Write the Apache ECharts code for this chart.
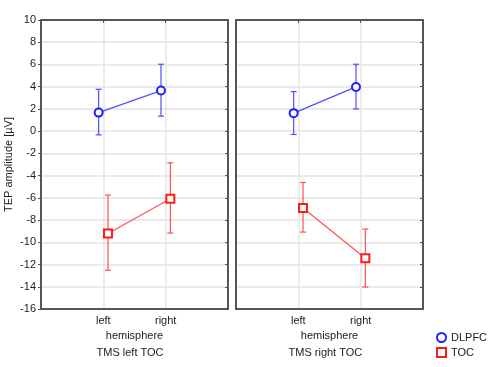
<!DOCTYPE html>
<html><head><meta charset="utf-8">
<script src="https://cdn.jsdelivr.net/npm/echarts@6/dist/echarts.min.js"></script>
<style>html,body{margin:0;padding:0;background:#fff}#c{width:492px;height:367px}</style>
</head><body><div id="c"></div>
<script>
// ---- data ----
const categories = ['left', 'right'];
const panelTitles = ['TMS left TOC', 'TMS right TOC'];
const seriesNames = ['DLPFC', 'TOC'];
// panel 1 (TMS left TOC)
const p1_DLPFC = [1.67, 3.65];
const p1_DLPFC_lo = [-0.33, 1.35];
const p1_DLPFC_hi = [3.77, 6.02];
const p1_TOC = [-9.2, -6.08];
const p1_TOC_lo = [-12.52, -9.17];
const p1_TOC_hi = [-5.75, -2.85];
// panel 2 (TMS right TOC)
const p2_DLPFC = [1.62, 3.98];
const p2_DLPFC_lo = [-0.3, 2.0];
const p2_DLPFC_hi = [3.56, 6.02];
const p2_TOC = [-6.92, -11.44];
const p2_TOC_lo = [-9.08, -14.02];
const p2_TOC_hi = [-4.62, -8.81];
const yTicks = [10, 8, 6, 4, 2, 0, -2, -4, -6, -8, -10, -12, -14, -16];

// ---- styling ----
const FONT = 'Liberation Sans, Arial, sans-serif';
const BLUE = '#5050ff', BLUE_M = '#1e1eff';
const RED = '#ff5050', RED_M = '#ff1a1a';
const DODGE = 0.075;
const panels = [
  {left: 41, vals: [p1_DLPFC, p1_TOC], lo: [p1_DLPFC_lo, p1_TOC_lo], hi: [p1_DLPFC_hi, p1_TOC_hi]},
  {left: 236, vals: [p2_DLPFC, p2_TOC], lo: [p2_DLPFC_lo, p2_TOC_lo], hi: [p2_DLPFC_hi, p2_TOC_hi]}
];
const W = 187, TOP = 20, H = 289;

const grid = [], xAxis = [], yAxis = [], lineSeries = [], errSeries = [], graphic = [];
panels.forEach((p, pi) => {
  grid.push({left: p.left, top: TOP, width: W, height: H, show: false});
  xAxis.push({
    type: 'value', gridIndex: pi, min: 0, max: 3, interval: 1,
    axisLine: {show: true, onZero: false, lineStyle: {color: '#555', width: 2}},
    axisTick: {show: false},
    axisLabel: {color: '#222', fontFamily: FONT, fontSize: 11, margin: 6,
      formatter: v => (v >= 1 && v <= categories.length) ? categories[v - 1] : ''},
    splitLine: {show: true, lineStyle: {color: '#e6e6e6', width: 1.5}},
    name: 'hemisphere', nameLocation: 'middle', nameGap: 17,
    nameTextStyle: {color: '#222', fontFamily: FONT, fontSize: 11}
  });
  xAxis.push({
    type: 'value', gridIndex: pi, min: 0, max: 3, interval: 1, position: 'top',
    axisLine: {show: true, onZero: false, lineStyle: {color: '#555', width: 2}},
    axisTick: {show: true, inside: true, length: 3, lineStyle: {color: '#555'}},
    axisLabel: {show: false}, splitLine: {show: false}
  });
  yAxis.push({
    type: 'value', gridIndex: pi, min: -16, max: 10, interval: 2,
    axisLine: {show: true, onZero: false, lineStyle: {color: '#555', width: 2}},
    axisTick: {show: pi === 0, length: 3, lineStyle: {color: '#555'}},
    axisLabel: {show: pi === 0, color: '#222', fontFamily: FONT, fontSize: 11, margin: 5},
    splitLine: {show: true, lineStyle: {color: '#e3e3e3', width: 1.5}},
    name: pi === 0 ? 'TEP amplitude [µV]' : '', nameLocation: 'middle', nameGap: 27,
    nameTextStyle: {color: '#222', fontFamily: FONT, fontSize: 11}
  });
  yAxis.push({
    type: 'value', gridIndex: pi, min: -16, max: 10, interval: 2, position: 'right',
    axisLine: {show: true, onZero: false, lineStyle: {color: '#555', width: 2}},
    axisTick: {show: true, inside: true, length: 3, lineStyle: {color: '#555'}},
    axisLabel: {show: false}, splitLine: {show: false}
  });
  const xi = pi * 2, yi = pi * 2;
  seriesNames.forEach((name, si) => {
    const off = si === 0 ? -DODGE : DODGE;
    const lc = si === 0 ? BLUE : RED, mc = si === 0 ? BLUE_M : RED_M;
    const vals = p.vals[si], lo = p.lo[si], hi = p.hi[si];
    lineSeries.push({
      type: 'line', name: name, xAxisIndex: xi, yAxisIndex: yi, z: 4,
      data: vals.map((v, i) => [i + 1 + off, v]),
      symbol: si === 0 ? 'circle' : 'rect', symbolSize: 8,
      showAllSymbol: true,
      lineStyle: {color: lc, width: 1.2},
      itemStyle: {color: '#fff', borderColor: mc, borderWidth: 2},
      color: mc
    });
    errSeries.push({
      type: 'custom', name: name, xAxisIndex: xi, yAxisIndex: yi, z: 3,
      color: mc,
      data: vals.map((v, i) => [i + 1 + off, lo[i], hi[i]]),
      renderItem: (params, api) => {
        const a = api.coord([api.value(0), api.value(1)]);
        const b = api.coord([api.value(0), api.value(2)]);
        const cw = 3;
        const st = {stroke: lc, lineWidth: 1.2};
        return {type: 'group', children: [
          {type: 'line', shape: {x1: a[0], y1: a[1], x2: b[0], y2: b[1]}, style: st},
          {type: 'line', shape: {x1: a[0] - cw, y1: a[1], x2: a[0] + cw, y2: a[1]}, style: st},
          {type: 'line', shape: {x1: b[0] - cw, y1: b[1], x2: b[0] + cw, y2: b[1]}, style: st}
        ]};
      },
      silent: true
    });
  });
  graphic.push({
    type: 'text', left: p.left + W / 2 - 38 + (pi === 1 ? -3 : 0), top: 347,
    style: {text: panelTitles[pi], fill: '#222', font: '11px ' + FONT}
  });
});

const chart = echarts.init(document.getElementById('c'), null, {renderer: 'canvas'});
chart.setOption({
  animation: false,
  grid, xAxis, yAxis, series: lineSeries.concat(errSeries), graphic,
  legend: {
    data: [
      {name: 'DLPFC', icon: 'circle', itemStyle: {color: '#fff', borderColor: BLUE_M, borderWidth: 2}},
      {name: 'TOC', icon: 'rect', itemStyle: {color: '#fff', borderColor: RED_M, borderWidth: 2}}
    ],
    orient: 'vertical', left: 436, top: 332, itemGap: 4, padding: 0,
    itemWidth: 9, itemHeight: 9,
    textStyle: {color: '#222', fontFamily: FONT, fontSize: 11}
  }
});
</script></body></html>
